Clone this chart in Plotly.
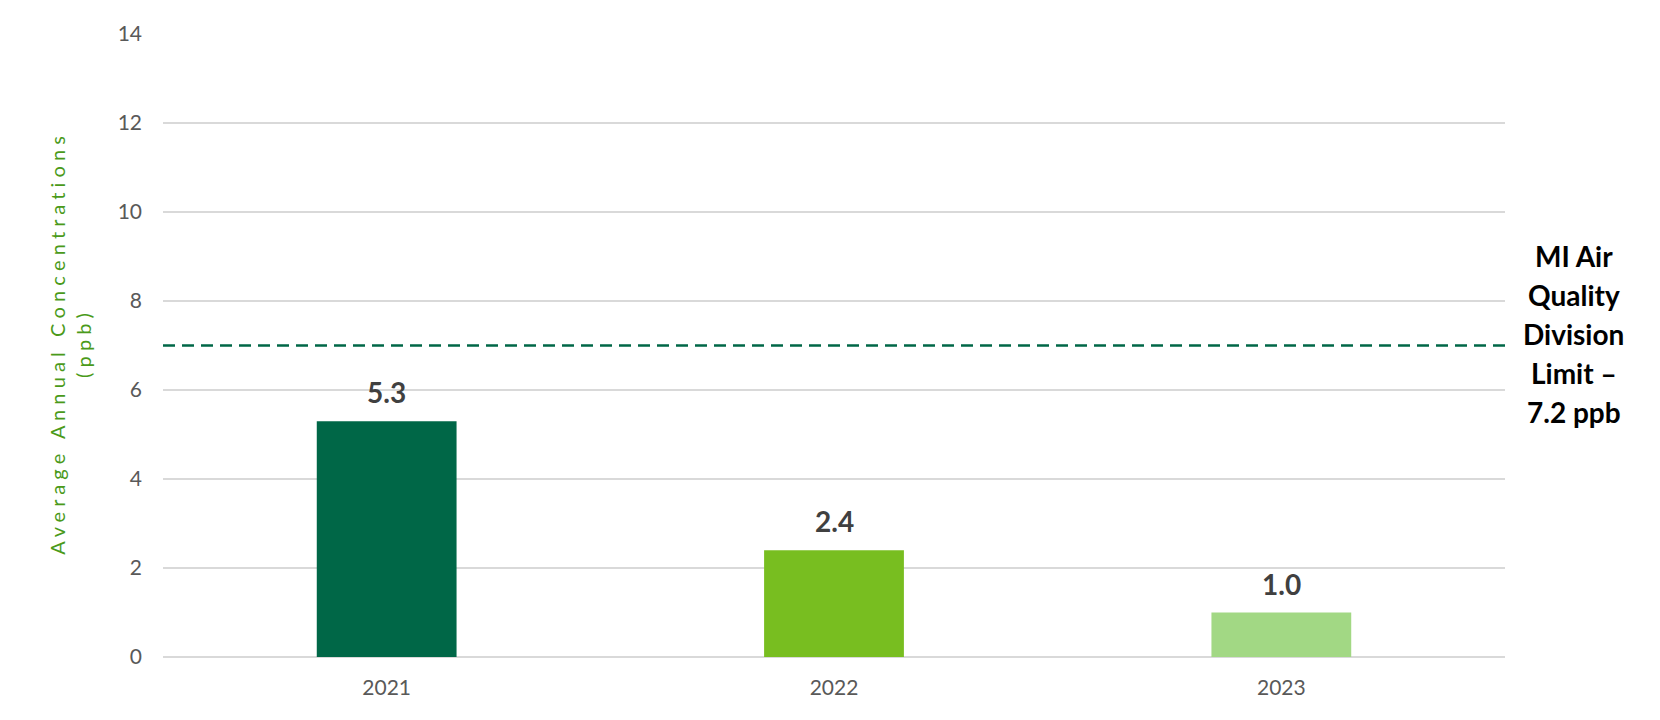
import plotly.graph_objects as go

years = ["2021", "2022", "2023"]
values = [5.3, 2.4, 1.0]
bar_colors = ["#006747", "#78BE20", "#A2D884"]
value_labels = ["5.3", "2.4", "1.0"]
limit_value = 7.0
limit_label_lines = ["MI Air", "Quality", "Division", "Limit –", "7.2 ppb"]
y_ticks = [0, 2, 4, 6, 8, 10, 12, 14]

FONT = "Lato, Open Sans, sans-serif"

fig = go.Figure()
fig.add_trace(go.Bar(
    x=years, y=values, marker=dict(color=bar_colors, line=dict(width=0)),
    width=0.3125, showlegend=False, hoverinfo="x+y",
))
for idx, (v, lab) in enumerate(zip(values, value_labels)):
    fig.add_annotation(x=idx, y=v, text="<b>" + lab + "</b>", showarrow=False,
                       xanchor="center", yanchor="bottom", yshift=10,
                       font=dict(family=FONT, size=28, color="#404040"))

fig.add_shape(type="line", xref="paper", yref="y", x0=0, x1=1,
              y0=limit_value, y1=limit_value,
              line=dict(color="#006747", width=2.5, dash="12px,7px"))

n = len(limit_label_lines)
for i, line in enumerate(limit_label_lines):
    fig.add_annotation(xref="paper", yref="paper", x=1.0514, y=0.519, xanchor="center", yanchor="middle",
                       yshift=(n // 2 - i) * 39,
                       text="<b>" + line + "</b>", showarrow=False, align="center",
                       font=dict(family=FONT, size=28, color="#000000"))

fig.update_layout(
    width=1660, height=720,
    margin=dict(l=155, r=163, t=23, b=71),
    paper_bgcolor="white", plot_bgcolor="white",
    font=dict(family=FONT, color="#595959", size=21),
)
fig.update_xaxes(type="category", range=[-0.5, len(years) - 0.5], showline=False, ticks="",
                 ticklabelstandoff=16, tickfont=dict(size=21, color="#595959"))
fig.update_yaxes(range=[0, 14], tickvals=y_ticks, showgrid=True, gridcolor="#D9D9D9", gridwidth=1.5,
                 zeroline=True, zerolinecolor="#D9D9D9", zerolinewidth=1.5,
                 ticks="", ticklabelstandoff=20, tickfont=dict(size=21, color="#595959"),
                 title=dict(text="A v e r a g e   A n n u a l   C o n c e n t r a t i o n s<br>( p p b )",
                            font=dict(family=FONT, size=20, color="#4A9A1A"), standoff=20))
fig.write_html("out.html")
